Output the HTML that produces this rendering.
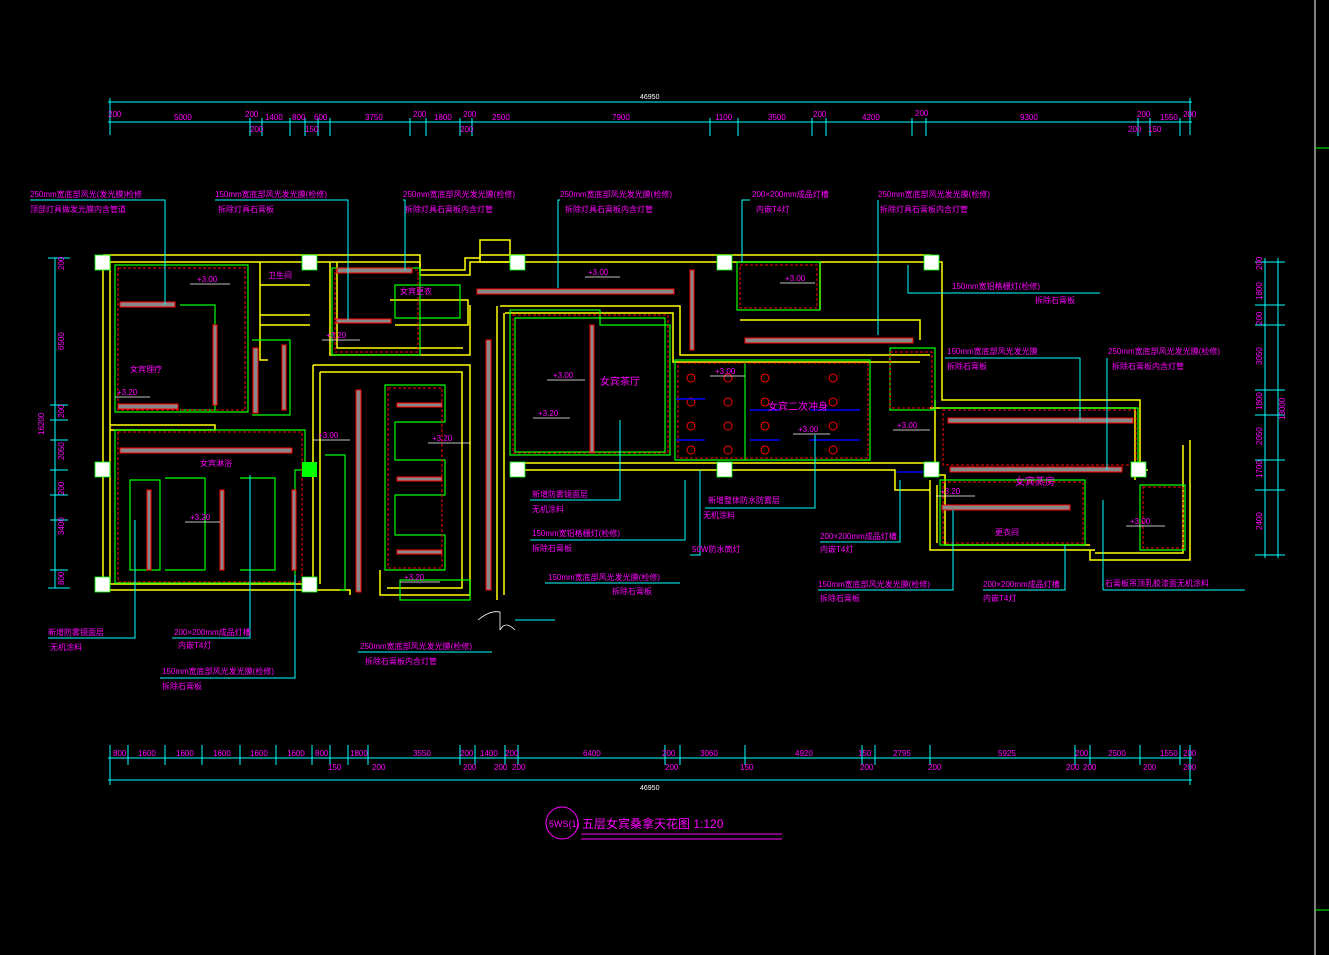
<!DOCTYPE html>
<html><head><meta charset="utf-8"><style>
html,body{margin:0;padding:0;background:#000;width:1329px;height:955px;overflow:hidden}
svg{display:block}
text{font-family:"Liberation Sans","Noto Sans CJK SC",sans-serif;font-size:8px;fill:#ff00ff}
.w{fill:#fff}
</style></head><body>
<svg width="1329" height="955" viewBox="0 0 1329 955" xmlns="http://www.w3.org/2000/svg">
<!-- frame right -->
<line x1="1315" y1="0" x2="1315" y2="955" stroke="#fff" stroke-width="1"/>
<line x1="1315" y1="148" x2="1329" y2="148" stroke="#0f0"/>
<line x1="1315" y1="910" x2="1329" y2="910" stroke="#0f0"/>
<!-- top dims -->
<g stroke="#0ff" stroke-width="1" fill="none">
<line x1="108" y1="102" x2="1192" y2="102"/>
<line x1="108" y1="122" x2="1192" y2="122"/>
<line x1="110" y1="98" x2="110" y2="135"/><line x1="1190" y1="98" x2="1190" y2="135"/>
<path d="M250 118v18M262 118v18M290 118v18M305 118v18M318 118v18M330 118v18M410 118v18M426 118v18M460 118v18M472 118v18M710 118v18M738 118v18M812 118v18M826 118v18M912 118v18M926 118v18M1138 118v18M1150 118v18M1180 118v18"/>
<line x1="108" y1="758" x2="1192" y2="758"/>
<line x1="108" y1="780" x2="1192" y2="780"/>
<line x1="110" y1="745" x2="110" y2="785"/><line x1="1190" y1="745" x2="1190" y2="785"/>
<path d="M128 745v20M165 745v20M202 745v20M240 745v20M276 745v20M312 745v20M330 745v20M348 745v20M368 745v20M460 745v20M475 745v20M505 745v20M518 745v20M665 745v20M680 745v20M745 745v20M862 745v20M875 745v20M930 745v20M1075 745v20M1090 745v20M1140 745v20M1180 745v20"/>
<line x1="55" y1="258" x2="55" y2="588"/>
<line x1="48" y1="258" x2="70" y2="258"/><line x1="48" y1="588" x2="70" y2="588"/>
<path d="M62 350v0M50 405h18M50 420h18M50 440h18M50 470h18M50 495h18M50 520h18M50 570h18"/>
<line x1="1265" y1="258" x2="1265" y2="558"/>
<line x1="1278" y1="258" x2="1278" y2="558"/>
<path d="M1255 262h30M1255 305h30M1255 325h30M1255 390h30M1255 415h30M1255 460h30M1255 490h30M1255 555h30"/>
</g>
<g fill="#fff" font-size="7">
<text x="640" y="99" class="w" style="fill:#fff;font-size:7px">46950</text>
<text x="640" y="790" style="fill:#fff;font-size:7px">46950</text>
</g>
<g style="font-size:7px">
<text x="108" y="117">200</text><text x="174" y="120">5000</text><text x="245" y="117">200</text><text x="265" y="120">1400</text><text x="292" y="120">800</text><text x="314" y="120">600</text><text x="365" y="120">3750</text><text x="413" y="117">200</text><text x="434" y="120">1800</text><text x="463" y="117">200</text><text x="492" y="120">2500</text><text x="612" y="120">7900</text><text x="715" y="120">1100</text><text x="768" y="120">3500</text><text x="813" y="117">200</text><text x="862" y="120">4200</text><text x="915" y="116">200</text><text x="1020" y="120">9300</text><text x="1137" y="117">200</text><text x="1160" y="120">1550</text><text x="1183" y="117">200</text>
<text x="250" y="132">200</text><text x="305" y="132">150</text><text x="460" y="132">200</text><text x="1128" y="132">200</text><text x="1148" y="132">150</text>
<text x="113" y="756">800</text><text x="138" y="756">1600</text><text x="176" y="756">1600</text><text x="213" y="756">1600</text><text x="250" y="756">1600</text><text x="287" y="756">1600</text><text x="315" y="756">800</text><text x="350" y="756">1800</text><text x="413" y="756">3550</text><text x="460" y="756">200</text><text x="480" y="756">1400</text><text x="505" y="756">200</text><text x="583" y="756">6400</text><text x="662" y="756">200</text><text x="700" y="756">3060</text><text x="795" y="756">4920</text><text x="858" y="756">150</text><text x="893" y="756">2795</text><text x="998" y="756">5925</text><text x="1075" y="756">200</text><text x="1108" y="756">2500</text><text x="1160" y="756">1550</text><text x="1183" y="756">200</text>
<text x="328" y="770">150</text><text x="372" y="770">200</text><text x="463" y="770">200</text><text x="494" y="770">200</text><text x="512" y="770">200</text><text x="665" y="770">200</text><text x="740" y="770">150</text><text x="860" y="770">200</text><text x="928" y="770">200</text><text x="1066" y="770">200</text><text x="1083" y="770">200</text><text x="1143" y="770">200</text><text x="1183" y="770">200</text>
</g>
<g style="font-size:7px">
<text transform="translate(64,270) rotate(-90)">200</text>
<text transform="translate(64,350) rotate(-90)">6500</text>
<text transform="translate(64,418) rotate(-90)">200</text>
<text transform="translate(44,435) rotate(-90)">16200</text>
<text transform="translate(64,460) rotate(-90)">2050</text>
<text transform="translate(64,495) rotate(-90)">200</text>
<text transform="translate(64,535) rotate(-90)">3400</text>
<text transform="translate(64,585) rotate(-90)">800</text>
<text transform="translate(1262,270) rotate(-90)">200</text>
<text transform="translate(1262,300) rotate(-90)">1800</text>
<text transform="translate(1262,325) rotate(-90)">200</text>
<text transform="translate(1262,365) rotate(-90)">3050</text>
<text transform="translate(1262,410) rotate(-90)">1800</text>
<text transform="translate(1262,445) rotate(-90)">2050</text>
<text transform="translate(1262,478) rotate(-90)">1700</text>
<text transform="translate(1262,530) rotate(-90)">2400</text>
<text transform="translate(1285,420) rotate(-90)">13000</text>
</g>
<!-- yellow walls -->
<g stroke="#ff0" stroke-width="1.5" fill="none">
<path d="M103 255H420V270H465V258H480V255H930V262H942V400H1140V470H1148V470"/>
<path d="M110 262H420V275H470V262H930"/>
<path d="M103 255V590H310"/><path d="M110 262V584H303"/>
<path d="M310 590H350V595"/>
<path d="M510 463H935V475H945V545H1090"/>
<path d="M510 470H895V490H930"/>
<path d="M935 400V470M930 408H1135V480"/>
<path d="M1190 440V560H1090V550"/><path d="M1183 445V553H1095"/>
<path d="M930 480V550H1095"/><path d="M937 485V543"/>
<path d="M313 365H470V595H380V570"/><path d="M320 372H462V588H387"/>
<path d="M313 365V590M320 372V584"/>
<path d="M497 306V600M504 313V595"/>
<path d="M500 306H680V355H930"/><path d="M505 313H673V362H920"/>
<path d="M740 320H920V340"/><path d="M820 262V310"/>
<path d="M110 425H215V430H110"/>
<path d="M330 262V355H470V305"/><path d="M337 262V348H463"/>
<path d="M390 300H468V325H395"/>
<path d="M260 262V360H268"/><path d="M260 285H310M260 315H310M260 325H310"/>
<path d="M480 240H510V262H480Z"/>
</g>
<!-- green -->
<g stroke="#0f0" stroke-width="1.2" fill="none">
<path d="M115 265H248V412H115Z"/>
<path d="M180 305H215V410H180"/>
<path d="M252 340H290V415H252"/>
<path d="M115 430H305V470H295V583H115Z"/>
<path d="M130 480H160V570H130Z"/><path d="M165 478H205V570H165"/><path d="M240 478H275V570H240"/>
<path d="M332 268H420V355H332Z"/><path d="M395 285H460V318H395Z"/>
<path d="M385 385H445V422H395V460H445V495H395V535H445V570H385Z"/>
<path d="M325 455H345V590H340"/>
<path d="M510 310H600V325H670V455H510Z"/>
<path d="M515 318H665V452H515Z"/>
<path d="M675 360H870V460H675Z"/><path d="M745 362V460"/>
<path d="M737 262H820V310H737Z"/>
<path d="M890 348H935V410H890Z"/>
<path d="M940 408H1138V466H1140"/>
<path d="M940 480H1085V545H940Z"/>
<path d="M1140 485H1185V550H1140Z"/>
<path d="M400 580H470V600H400Z"/>
</g>
<!-- red dashed -->
<g stroke="#f00" stroke-width="1" fill="none" stroke-dasharray="3,2">
<path d="M118 268H245V410H118Z"/><path d="M118 432H302V582H118Z"/>
<path d="M335 270H418V352H335Z"/><path d="M388 388H442V568H388Z"/>
<path d="M513 315H668V453H513Z"/><path d="M678 363H868V458H678Z"/>
<path d="M943 410H1136V465H943Z"/><path d="M943 482H1083V543H943Z"/>
<path d="M1143 487H1183V548H1143Z"/>
<path d="M740 265H817V308H740Z"/><path d="M890 352H932V408H890Z"/>
</g>
<!-- grey/red ducts -->
<g stroke="#f00" stroke-width="1" fill="#888">
<rect x="120" y="302" width="55" height="5"/><rect x="118" y="404" width="60" height="5"/>
<rect x="213" y="325" width="4" height="80"/><rect x="253" y="348" width="5" height="65"/><rect x="282" y="345" width="4" height="65"/>
<rect x="120" y="448" width="172" height="5"/>
<rect x="147" y="490" width="4" height="80"/><rect x="220" y="490" width="4" height="80"/><rect x="292" y="490" width="4" height="80"/>
<rect x="337" y="268" width="75" height="5"/><rect x="336" y="319" width="55" height="4"/>
<rect x="356" y="390" width="5" height="202"/>
<rect x="397" y="403" width="45" height="4"/><rect x="397" y="477" width="45" height="4"/><rect x="397" y="550" width="45" height="4"/>
<rect x="477" y="289" width="197" height="5"/>
<rect x="486" y="340" width="5" height="250"/>
<rect x="590" y="325" width="4" height="128"/><rect x="690" y="270" width="4" height="80"/>
<rect x="745" y="338" width="168" height="5"/>
<rect x="948" y="418" width="185" height="5"/><rect x="950" y="467" width="172" height="5"/><rect x="942" y="505" width="128" height="5"/>
</g>
<!-- light fixtures -->
<g stroke="#f00" stroke-width="1" fill="none">
<circle cx="691" cy="378" r="4"/><circle cx="728" cy="378" r="4"/><circle cx="691" cy="402" r="4"/><circle cx="728" cy="402" r="4"/><circle cx="691" cy="426" r="4"/><circle cx="728" cy="426" r="4"/><circle cx="691" cy="450" r="4"/><circle cx="728" cy="450" r="4"/>
<circle cx="765" cy="378" r="4"/><circle cx="765" cy="402" r="4"/><circle cx="765" cy="426" r="4"/><circle cx="765" cy="450" r="4"/>
<circle cx="833" cy="378" r="4"/><circle cx="833" cy="402" r="4"/><circle cx="833" cy="426" r="4"/><circle cx="833" cy="450" r="4"/>
</g>
<g stroke="#00f" stroke-width="1.5"><path d="M676 440H705M676 399H705M750 440H780M810 440H860M750 410H780M810 410H860"/><path d="M897 472H925"/></g>
<!-- columns -->
<g fill="#fff" stroke="#0f0" stroke-width="0.8">
<rect x="95" y="255" width="15" height="15"/><rect x="95" y="462" width="15" height="15"/><rect x="95" y="577" width="15" height="15"/>
<rect x="302" y="255" width="15" height="15"/><rect x="302" y="577" width="15" height="15"/>
<rect x="510" y="255" width="15" height="15"/><rect x="510" y="462" width="15" height="15"/>
<rect x="717" y="255" width="15" height="15"/><rect x="717" y="462" width="15" height="15"/>
<rect x="924" y="255" width="15" height="15"/><rect x="924" y="462" width="15" height="15"/>
<rect x="1131" y="462" width="15" height="15"/>
</g>
<rect x="302" y="462" width="15" height="15" fill="#0f0"/>
<!-- cyan leaders -->
<g stroke="#0ff" stroke-width="1" fill="none">
<path d="M30 200H165V305"/><path d="M215 200H348V320"/><path d="M403 200H405V270"/><path d="M560 200H558V288"/><path d="M750 200H742V262"/><path d="M878 200V335"/>
<path d="M908 265V293H1100"/><path d="M945 358H1080V420"/><path d="M1107 358V470"/>
<path d="M530 500H620V420"/><path d="M530 540H685V480"/><path d="M690 555H700V470"/>
<path d="M705 508H815V435"/><path d="M820 542H900V480"/><path d="M545 583H680"/>
<path d="M818 590H953V510"/><path d="M983 590H1065V545"/><path d="M1103 590H1245M1103 500V590"/>
<path d="M48 638H135V520"/><path d="M172 638H250V475"/><path d="M160 678H295V575"/><path d="M358 652H492"/>
<path d="M515 620H555"/>
</g>
<!-- door arc -->
<path d="M478 620Q490 610 500 612V630Q505 620 515 630" stroke="#fff" fill="none" stroke-width="0.8"/>
<!-- elevation labels -->
<g class="w" style="fill:#fff;font-size:8px">
<text x="197" y="282">+3.00</text><text x="117" y="395">+3.20</text><text x="326" y="338">+3.20</text><text x="318" y="438">+3.00</text><text x="190" y="520">+3.20</text><text x="432" y="441">+3.20</text><text x="404" y="580">+3.20</text>
<text x="588" y="275">+3.00</text><text x="553" y="378">+3.00</text><text x="538" y="416">+3.20</text><text x="715" y="374">+3.00</text><text x="798" y="432">+3.00</text><text x="785" y="281">+3.00</text><text x="897" y="428">+3.00</text><text x="940" y="494">+3.20</text><text x="1130" y="524">+3.00</text>
</g>
<g stroke="#fff" stroke-width="0.8"><path d="M190 284H230M115 397H150M322 340H360M313 440H350M185 522H220M428 443H470M400 582H440M585 277H620M547 380H585M533 418H570M710 376H745M793 434H830M780 283H815M893 430H930M936 496H975M1126 526H1165"/></g>
<!-- labels -->
<text x="30" y="197">250mm宽底部风光(发光膜)检修</text><text x="30" y="212">顶部灯具做发光膜内含管道</text>
<text x="215" y="197">150mm宽底部风光发光膜(检修)</text><text x="218" y="212">拆除灯具石膏板</text>
<text x="403" y="197">250mm宽底部风光发光膜(检修)</text><text x="405" y="212">拆除灯具石膏板内含灯管</text>
<text x="560" y="197">250mm宽底部风光发光膜(检修)</text><text x="565" y="212">拆除灯具石膏板内含灯管</text>
<text x="752" y="197">200×200mm成品灯槽</text><text x="756" y="212">内嵌T4灯</text>
<text x="878" y="197">250mm宽底部风光发光膜(检修)</text><text x="880" y="212">拆除灯具石膏板内含灯管</text>
<text x="952" y="289">150mm宽铝格栅灯(检修)</text><text x="1035" y="303">拆除石膏板</text>
<text x="947" y="354">150mm宽底部风光发光膜</text><text x="947" y="369">拆除石膏板</text>
<text x="1108" y="354">250mm宽底部风光发光膜(检修)</text><text x="1112" y="369">拆除石膏板内含灯管</text>
<text x="268" y="278">卫生间</text><text x="400" y="294">女宾更衣</text><text x="130" y="372">女宾理疗</text><text x="200" y="466">女宾淋浴</text>
<text x="600" y="385" style="font-size:10px">女宾茶厅</text><text x="768" y="410" style="font-size:10px">女宾二次冲身</text><text x="1015" y="485" style="font-size:10px">女宾蒸房</text><text x="995" y="535">更衣间</text>
<text x="532" y="497">新增防雾镜面层</text><text x="532" y="512">无机涂料</text>
<text x="532" y="536">150mm宽铝格栅灯(检修)</text><text x="532" y="551">拆除石膏板</text>
<text x="692" y="552">50W防水筒灯</text>
<text x="708" y="503">新增整体防水防雾层</text><text x="703" y="518">无机涂料</text>
<text x="820" y="539">200×200mm成品灯槽</text><text x="820" y="552">内嵌T4灯</text>
<text x="548" y="580">150mm宽底部风光发光膜(检修)</text><text x="612" y="594">拆除石膏板</text>
<text x="818" y="587">150mm宽底部风光发光膜(检修)</text><text x="820" y="601">拆除石膏板</text>
<text x="983" y="587">200×200mm成品灯槽</text><text x="983" y="601">内嵌T4灯</text>
<text x="1105" y="586">石膏板吊顶乳胶漆面无机涂料</text>
<text x="48" y="635">新增防雾镜面层</text><text x="50" y="650">无机涂料</text>
<text x="174" y="635">200×200mm成品灯槽</text><text x="178" y="648">内嵌T4灯</text>
<text x="162" y="674">150mm宽底部风光发光膜(检修)</text><text x="162" y="689">拆除石膏板</text>
<text x="360" y="649">250mm宽底部风光发光膜(检修)</text><text x="365" y="664">拆除石膏板内含灯管</text>
<!-- title -->
<circle cx="562" cy="823" r="16" stroke="#f0f" fill="none" stroke-width="1"/>
<text x="549" y="827" style="font-size:9px">5WS(1)</text>
<text x="582" y="828" style="font-size:12px">五层女宾桑拿天花图 1:120</text>
<line x1="581" y1="834" x2="782" y2="834" stroke="#f0f"/>
<line x1="581" y1="839" x2="782" y2="839" stroke="#f0f"/>
</svg>
</body></html>
